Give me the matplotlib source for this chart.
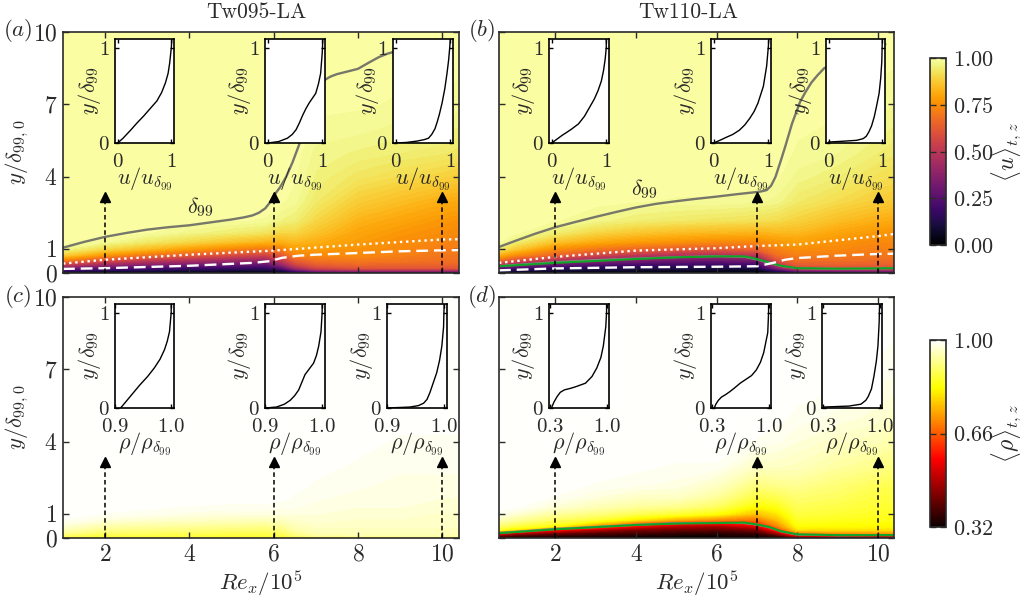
import numpy as np
import matplotlib
matplotlib.use('Agg')
import matplotlib.pyplot as plt
from matplotlib.cm import ScalarMappable
from matplotlib.colors import Normalize

plt.rcParams['font.family'] = ['cmr10', 'DejaVu Serif']
plt.rcParams['mathtext.fontset'] = 'cm'
plt.rcParams['axes.unicode_minus'] = False
plt.rcParams['axes.formatter.use_mathtext'] = True

W, H = 1022, 598
INK = '#2a2a2a'

# wall-normal stations shared by all the field tables
y_grid = [0, .1, .2, .35, .5, .75, 1, 1.3, 1.7, 2.2, 3, 4, 5, 6, 7, 10]

# fields, one column per streamwise station
x_a = [1, 2, 3, 4, 5, 5.8, 6.2, 6.5, 7, 8, 9, 10, 10.4]
u_a = [
    [0, .17, .32, .53, .69, .88, .97, 1, 1, 1, 1, 1, 1, 1, 1, 1],
    [0, .12, .25, .42, .56, .77, .90, .98, 1, 1, 1, 1, 1, 1, 1, 1],
    [0, .11, .21, .36, .49, .69, .84, .94, .99, 1, 1, 1, 1, 1, 1, 1],
    [0, .10, .19, .32, .44, .63, .78, .90, .97, .995, 1, 1, 1, 1, 1, 1],
    [0, .09, .17, .29, .40, .58, .73, .86, .95, .99, 1, 1, 1, 1, 1, 1],
    [0, .08, .16, .27, .38, .55, .70, .83, .93, .985, 1, 1, 1, 1, 1, 1],
    [0, .12, .25, .40, .50, .62, .72, .82, .90, .96, .99, 1, 1, 1, 1, 1],
    [0, .25, .42, .55, .62, .72, .78, .84, .90, .95, .98, .99, .995, 1, 1, 1],
    [0, .40, .55, .63, .68, .74, .78, .82, .86, .90, .94, .96, .97, .985, .99, 1],
    [0, .45, .60, .66, .70, .74, .76, .78, .80, .83, .88, .93, .96, .98, .99, 1],
    [0, .45, .60, .65, .69, .72, .74, .75, .77, .80, .85, .91, .95, .97, .985, 1],
    [0, .45, .60, .65, .68, .70, .71, .73, .75, .77, .82, .89, .94, .97, .985, 1],
    [0, .45, .60, .65, .68, .70, .71, .72, .74, .76, .81, .88, .93, .96, .98, 1],
]
x_b = [.6, 1, 2, 3, 4, 5, 6, 7, 7.5, 8, 9, 10, 10.4]
u_b = [
    [0, .13, .25, .48, .65, .82, .94, .99, 1, 1, 1, 1, 1, 1, 1, 1],
    [0, .11, .20, .38, .56, .75, .87, .95, .995, 1, 1, 1, 1, 1, 1, 1],
    [0, .08, .14, .28, .45, .65, .75, .86, .95, .99, 1, 1, 1, 1, 1, 1],
    [0, .07, .13, .23, .36, .56, .70, .81, .90, .97, .995, 1, 1, 1, 1, 1],
    [0, .06, .12, .20, .32, .50, .66, .78, .87, .95, .99, 1, 1, 1, 1, 1],
    [0, .06, .11, .19, .28, .47, .63, .76, .85, .94, .985, 1, 1, 1, 1, 1],
    [0, .05, .10, .18, .27, .46, .62, .74, .84, .93, .985, 1, 1, 1, 1, 1],
    [0, .05, .10, .20, .30, .50, .65, .74, .83, .92, .98, .995, 1, 1, 1, 1],
    [0, .17, .35, .50, .58, .68, .72, .77, .84, .91, .97, .99, .995, 1, 1, 1],
    [0, .35, .55, .63, .67, .72, .75, .79, .84, .89, .94, .97, .985, .99, 1, 1],
    [0, .38, .58, .64, .67, .71, .74, .76, .80, .85, .91, .95, .975, .985, .99, 1],
    [0, .40, .58, .64, .67, .70, .72, .74, .77, .82, .88, .92, .95, .97, .98, 1],
    [0, .40, .58, .64, .67, .70, .72, .74, .76, .81, .87, .91, .94, .96, .975, 1],
]
rho_c = [
    [.86, .89, .92, .95, .97, .99, 1, 1, 1, 1, 1, 1, 1, 1, 1, 1],
    [.85, .87, .89, .92, .94, .975, .99, 1, 1, 1, 1, 1, 1, 1, 1, 1],
    [.85, .87, .89, .915, .935, .965, .985, .995, 1, 1, 1, 1, 1, 1, 1, 1],
    [.85, .87, .885, .91, .93, .96, .98, .99, 1, 1, 1, 1, 1, 1, 1, 1],
    [.85, .865, .88, .905, .925, .955, .975, .99, .995, 1, 1, 1, 1, 1, 1, 1],
    [.85, .865, .88, .90, .92, .95, .975, .99, .995, 1, 1, 1, 1, 1, 1, 1],
    [.85, .875, .89, .91, .93, .955, .975, .985, .995, 1, 1, 1, 1, 1, 1, 1],
    [.86, .90, .92, .94, .95, .965, .975, .985, .99, .995, 1, 1, 1, 1, 1, 1],
    [.86, .93, .945, .955, .96, .97, .975, .98, .985, .99, .995, 1, 1, 1, 1, 1],
    [.86, .94, .95, .955, .96, .965, .97, .975, .98, .985, .99, .995, 1, 1, 1, 1],
    [.87, .945, .95, .955, .96, .965, .97, .975, .98, .98, .985, .99, .995, 1, 1, 1],
    [.87, .945, .95, .955, .96, .96, .965, .97, .975, .98, .985, .99, .995, .998, 1, 1],
    [.87, .945, .95, .955, .96, .96, .965, .97, .975, .98, .985, .99, .995, .998, 1, 1],
]
rho_d = [
    [.34, .42, .62, .85, .90, .95, .985, 1, 1, 1, 1, 1, 1, 1, 1, 1],
    [.33, .39, .50, .80, .87, .93, .97, .995, 1, 1, 1, 1, 1, 1, 1, 1],
    [.32, .36, .42, .60, .83, .89, .93, .97, .99, 1, 1, 1, 1, 1, 1, 1],
    [.32, .35, .39, .50, .72, .86, .91, .95, .975, .99, 1, 1, 1, 1, 1, 1],
    [.32, .34, .38, .44, .58, .80, .88, .93, .96, .985, .995, 1, 1, 1, 1, 1],
    [.32, .33, .36, .42, .50, .74, .86, .92, .96, .98, .99, 1, 1, 1, 1, 1],
    [.32, .33, .35, .41, .48, .70, .83, .89, .93, .96, .99, 1, 1, 1, 1, 1],
    [.32, .34, .37, .44, .55, .68, .76, .82, .87, .91, .96, .99, 1, 1, 1, 1],
    [.33, .38, .47, .62, .70, .76, .80, .84, .88, .92, .96, .985, .995, 1, 1, 1],
    [.33, .56, .70, .80, .83, .85, .87, .885, .90, .925, .955, .975, .988, .995, 1, 1],
    [.33, .57, .71, .80, .825, .845, .86, .875, .89, .905, .935, .96, .98, .99, .998, 1],
    [.33, .58, .72, .80, .82, .84, .85, .86, .87, .885, .92, .95, .97, .98, .99, 1],
    [.33, .58, .72, .80, .82, .84, .85, .86, .87, .88, .91, .94, .96, .975, .985, 1],
]

# boundary layer thickness and friends
dx_a = [1, 1.5, 2, 2.5, 3, 3.5, 4, 4.5, 5, 5.3, 5.5, 5.65, 5.8, 5.9, 6, 6.15, 6.3, 6.45, 6.6, 6.8,
        7, 7.1, 7.2, 7.35, 7.5, 7.75, 8, 8.25, 8.5, 8.7, 8.9, 9.5]
delta_a = [1.05, 1.29, 1.5, 1.66, 1.8, 1.9, 1.98, 2.1, 2.22, 2.31, 2.39, 2.5, 2.68, 2.9, 3.2, 3.55, 4.0, 4.6,
           5.3, 6.35, 7.35, 7.72, 8.0, 8.15, 8.25, 8.36, 8.47, 8.72, 8.96, 9.1, 9.2, 9.5]
dx_b = [.6, 1, 1.5, 2, 2.5, 3, 3.5, 4, 4.5, 5, 5.5, 6, 6.5, 7, 7.12, 7.24, 7.35, 7.46, 7.58, 7.7, 7.87,
        8.07, 8.2, 8.35, 8.5, 8.67, 9.5, 10.18]
delta_b = [1.08, 1.33, 1.63, 1.9, 2.12, 2.33, 2.53, 2.72, 2.87, 2.98, 3.08, 3.17, 3.27, 3.36, 3.39, 3.44, 3.62, 3.99,
           4.6, 5.24, 6.2, 7.1, 7.5, 7.9, 8.2, 8.5, 9.1, 9.5]
dot_xa = [1, 2, 4, 6, 8, 10, 10.4]
dot_a = [.39, .55, .76, .93, 1.18, 1.39, 1.4]
dash_xa = [1, 2, 4, 5.5, 5.9, 6.2, 6.6, 7, 8, 9, 10, 10.4]
dash_a = [.17, .2, .3, .42, .49, .63, .72, .76, .83, .9, .94, .95]
dot_xb = [.6, 2, 4, 6, 7, 8, 10, 10.4]
dot_b = [.42, .67, .93, 1.03, 1.12, 1.18, 1.53, 1.62]
dash_xb = [.6, 2, 4, 6, 7, 7.4, 7.7, 8, 9, 10, 10.4]
dash_b = [.11, .19, .24, .26, .28, .42, .55, .62, .72, .79, .8]
green_xb = [.6, 2, 3, 4, 5, 6, 6.7, 7, 7.3, 7.6, 8, 9, 10, 10.4]
green_b = [.28, .42, .5, .58, .65, .69, .69, .58, .44, .3, .2, .18, .19, .2]
grey_b = [.29, .45, .54, .6, .66, .70, .67, .56, .42, .29, .2, .17, .19, .21]
green_xd = [.6, 2, 4, 5, 6, 6.7, 7, 7.3, 7.6, 8, 9, 10, 10.4]
green_d = [.2, .36, .54, .6, .62, .64, .56, .46, .28, .15, .12, .12, .12]
grey_d = [.21, .38, .55, .62, .63, .62, .55, .45, .27, .14, .11, .12, .12]

# inset profiles: (value, y/delta99)
pa1 = ([0, .1, .25, .36, .48, .62, .73, .82, .89, .94, .97, 1.0, 1.01],
       [0, .05, .14, .21, .28, .37, .44, .53, .63, .73, .84, 1.0, 1.09])
pa2 = ([0, .2, .36, .45, .52, .58, .64, .7, .76, .88, .93, .97, 1.0, 1.01],
       [0, .015, .05, .09, .14, .21, .29, .36, .42, .52, .62, .73, .95, 1.09])
pa3 = ([0, .2, .39, .52, .6, .66, .72, .76, .8, .85, .9, .94, .97, .99, 1.0],
       [0, .006, .02, .035, .05, .09, .15, .22, .3, .42, .57, .73, .87, 1.0, 1.09])
pb1 = ([0, .19, .35, .49, .6, .68, .78, .85, .91, .95, .98, 1.0, 1.0],
       [0, .08, .14, .2, .28, .36, .46, .55, .65, .76, .88, 1.0, 1.09])
pb2 = ([0, .12, .22, .35, .47, .57, .66, .74, .81, .91, .97, 1.0, 1.01],
       [0, .03, .057, .09, .134, .19, .258, .33, .417, .594, .806, 1.0, 1.09])
pb3 = ([0, .25, .52, .64, .7, .75, .8, .85, .89, .94, .97, .99, 1.0],
       [.01, .018, .028, .045, .07, .117, .18, .276, .38, .52, .68, .85, 1.09])
pc1 = ([.91, .927, .944, .958, .97, .98, .988, .993, .997, 1.0, 1.0],
       [0, .12, .24, .33, .42, .51, .61, .7, .8, 1.0, 1.09])
pc2 = ([.9, .92, .934, .944, .952, .959, .97, .985, .99, .994, .998, 1.0, 1.0],
       [0, .01, .04, .08, .13, .19, .35, .47, .55, .65, .8, 1.0, 1.09])
pc3 = ([.9, .94, .955, .964, .97, .975, .987, .992, .996, .999, 1.0],
       [0, .01, .025, .05, .09, .16, .37, .5, .65, .85, 1.09])
pd1 = ([.32, .35, .39, .43, .48, .55, .61, .74, .82, .88, .93, .96, .99, 1.0, 1.0],
       [0, .06, .12, .165, .19, .205, .22, .26, .33, .42, .53, .65, .85, 1.0, 1.09])
pd2 = ([.33, .35, .38, .42, .47, .52, .58, .65, .72, .79, .85, .9, .94, .99, 1.0, 1.0],
       [0, .04, .08, .115, .14, .17, .21, .26, .3, .34, .4, .48, .58, .79, 1.0, 1.09])
pd3 = ([.31, .62, .77, .83, .86, .9, .93, .96, .98, .995, 1.0],
       [.01, .02, .04, .08, .12, .2, .33, .49, .65, .9, 1.09])

stations_left = [2, 6, 10]
stations_right = [2, 7, 10]
main_x_ticks = [2, 4, 6, 8, 10]
main_y_ticks = [0, 1, 4, 7, 10]

u_label = r'$u/u_{\delta_{99}}$'
rho_label = r'$\rho/\rho_{\delta_{99}}$'


def px_axes(fig, left, top, right, bottom, **kw):
    return fig.add_axes([left / W, 1 - bottom / H, (right - left) / W, (bottom - top) / H], **kw)


def style(ax, size, length=4, edge=INK):
    ax.tick_params(direction='in', top=True, right=True, length=length, width=1,
                   labelsize=size, color=edge, labelcolor=INK, pad=4)
    for s in ax.spines.values():
        s.set_linewidth(1.2)
        s.set_color(edge)


def inset(fig, box, prof, xlim, xticks, xticklabels, xlabel):
    ax = px_axes(fig, *box, zorder=5)
    ax.plot(prof[0], prof[1], color='k', lw=1)
    ax.set_xlim(xlim)
    ax.set_ylim(0, 1.09)
    ax.set_xticks(xticks)
    ax.set_xticklabels(xticklabels)
    ax.set_yticks([0, 1])
    ax.set_yticklabels(['$0$', '$1$'])
    style(ax, 15, 3, 'k')
    ax.tick_params(axis='x', pad=7)
    ax.set_xlabel(xlabel, fontsize=16, color=INK, labelpad=-4)
    ax.set_ylabel(r'$y/\delta_{99}$', fontsize=16, color=INK, labelpad=-4)


def field(fig, box, x, table, cmap, vmin, vmax, xlim, stations, left_labels, bottom_labels):
    ax = px_axes(fig, *box)
    z = np.array(table).T
    ax.contourf(x, y_grid, z, levels=np.linspace(vmin, vmax, 81), cmap=cmap, vmin=vmin, vmax=vmax)
    for st in stations:
        ax.plot([st, st], [0, 3.2], color='k', lw=1.1, ls=(0, (3, 2)), zorder=3)
        ax.plot([st], [3.15], marker='^', color='k', ms=7.5, zorder=3, clip_on=False)
    ax.set_xlim(xlim)
    ax.set_ylim(0, 10)
    ax.set_xticks(main_x_ticks)
    ax.set_yticks(main_y_ticks)
    style(ax, 17)
    if bottom_labels:
        ax.set_xticklabels(['$%d$' % t for t in main_x_ticks])
        ax.set_xlabel(r'$Re_x/10^5$', fontsize=16.5, color=INK, labelpad=2)
    else:
        ax.set_xticklabels([])
    if left_labels:
        ax.set_yticklabels(['$%d$' % t for t in main_y_ticks])
        ax.set_ylabel(r'$y/\delta_{99,0}$', fontsize=16.5, color=INK, labelpad=1)
    else:
        ax.set_yticklabels([])
    return ax


def colorbar(fig, box, cmap, vmin, vmax, ticks, ticklabels, label):
    cax = px_axes(fig, *box)
    cb = fig.colorbar(ScalarMappable(Normalize(vmin, vmax), cmap), cax=cax)
    cb.set_ticks(ticks)
    cb.set_ticklabels(ticklabels)
    cb.ax.tick_params(direction='in', left=True, right=True, length=4, width=1,
                      labelsize=16, colors=INK, pad=5)
    cb.outline.set_linewidth(1.2)
    cb.outline.set_edgecolor(INK)
    cb.set_label(label, fontsize=17, color=INK, labelpad=-3)


fig = plt.figure(figsize=(W / 100, H / 100), dpi=100)

top_y, bot_y = (32, 273), (297, 538)
left_x, right_x = (63, 459), (499, 894)

ax_a = field(fig, (left_x[0], top_y[0], left_x[1], top_y[1]), x_a, u_a, 'inferno', 0, 1,
             (1, 10.4), stations_left, True, False)
ax_b = field(fig, (right_x[0], top_y[0], right_x[1], top_y[1]), x_b, u_b, 'inferno', 0, 1,
             (.6, 10.4), stations_right, False, False)
ax_c = field(fig, (left_x[0], bot_y[0], left_x[1], bot_y[1]), x_a, rho_c, 'hot', .32, 1,
             (1, 10.4), stations_left, True, True)
ax_d = field(fig, (right_x[0], bot_y[0], right_x[1], bot_y[1]), x_b, rho_d, 'hot', .32, 1,
             (.6, 10.4), stations_right, False, True)

line_grey = '#77776a'
ax_a.plot(dx_a, delta_a, color=line_grey, lw=1.7, zorder=2)
ax_a.plot(dot_xa, dot_a, color='w', lw=1.7, ls=(0, (1, 1.6)), zorder=2)
ax_a.plot(dash_xa, dash_a, color='w', lw=1.7, ls=(0, (5, 2.5)), zorder=2)
ax_b.plot(dx_b, delta_b, color=line_grey, lw=1.7, zorder=2)
ax_b.plot(dot_xb, dot_b, color='w', lw=1.7, ls=(0, (1, 1.6)), zorder=2)
ax_b.plot(green_xb, grey_b, color='#8c8c80', lw=1.5, zorder=2)
ax_b.plot(green_xb, green_b, color='#0fa328', lw=1.5, zorder=2)
ax_b.plot(dash_xb, dash_b, color='w', lw=1.7, ls=(0, (5, 2.5)), zorder=2)
ax_d.plot(green_xd, grey_d, color='#8c8c80', lw=1.5, zorder=2)
ax_d.plot(green_xd, green_d, color='#0fa328', lw=1.5, zorder=2)

ax_a.text(4.26, 2.72, r'$\delta_{99}$', fontsize=16, ha='center', va='center', color=INK)
ax_b.text(4.2, 3.47, r'$\delta_{99}$', fontsize=16, ha='center', va='center', color=INK)

# insets
u_ticks, u_labels = [0, 1], ['$0$', '$1$']
u_lim = (-.05, 1.05)
r1_ticks, r1_labels = [.9, 1], ['$0.9$', '$1.0$']
r1_lim = (.9, 1.005)
r2_ticks, r2_labels = [.3, 1], ['$0.3$', '$1.0$']
r2_lim = (.29, 1.03)

inset(fig, (115, 39, 174, 143), pa1, u_lim, u_ticks, u_labels, u_label)
inset(fig, (265, 39, 325, 143), pa2, u_lim, u_ticks, u_labels, u_label)
inset(fig, (393, 39, 453, 143), pa3, u_lim, u_ticks, u_labels, u_label)
inset(fig, (549, 39, 609, 143), pb1, u_lim, u_ticks, u_labels, u_label)
inset(fig, (711, 39, 771, 143), pb2, u_lim, u_ticks, u_labels, u_label)
inset(fig, (826, 39, 885, 143), pb3, u_lim, u_ticks, u_labels, u_label)
inset(fig, (115, 304, 174, 408), pc1, r1_lim, r1_ticks, r1_labels, rho_label)
inset(fig, (265, 304, 325, 408), pc2, r1_lim, r1_ticks, r1_labels, rho_label)
inset(fig, (387, 304, 447, 408), pc3, r1_lim, r1_ticks, r1_labels, rho_label)
inset(fig, (549, 304, 609, 408), pd1, r2_lim, r2_ticks, r2_labels, rho_label)
inset(fig, (711, 304, 771, 408), pd2, r2_lim, r2_ticks, r2_labels, rho_label)
inset(fig, (822, 304, 882, 408), pd3, r2_lim, r2_ticks, r2_labels, rho_label)

colorbar(fig, (930, 58, 946, 245), 'inferno', 0, 1, [0, .25, .5, .75, 1],
         ['$0.00$', '$0.25$', '$0.50$', '$0.75$', '$1.00$'], r'$\langle u\rangle_{t,z}$')
colorbar(fig, (930, 340, 946, 527), 'hot', .32, 1, [.32, .66, 1],
         ['$0.32$', '$0.66$', '$1.00$'], r'$\langle \rho\rangle_{t,z}$')

fig.text(256 / W, 1 - 12 / H, 'Tw095-LA', fontsize=15.5, ha='center', va='center', color=INK)
fig.text(688 / W, 1 - 12 / H, 'Tw110-LA', fontsize=15.5, ha='center', va='center', color=INK)
for tag, px, py in [('a', 18, 31), ('b', 482, 31), ('c', 18, 296), ('d', 482, 296)]:
    fig.text(px / W, 1 - py / H, r'$(%s)$' % tag, fontsize=16.5, ha='center', va='center', color=INK)

fig.savefig('out.png', dpi=100)
